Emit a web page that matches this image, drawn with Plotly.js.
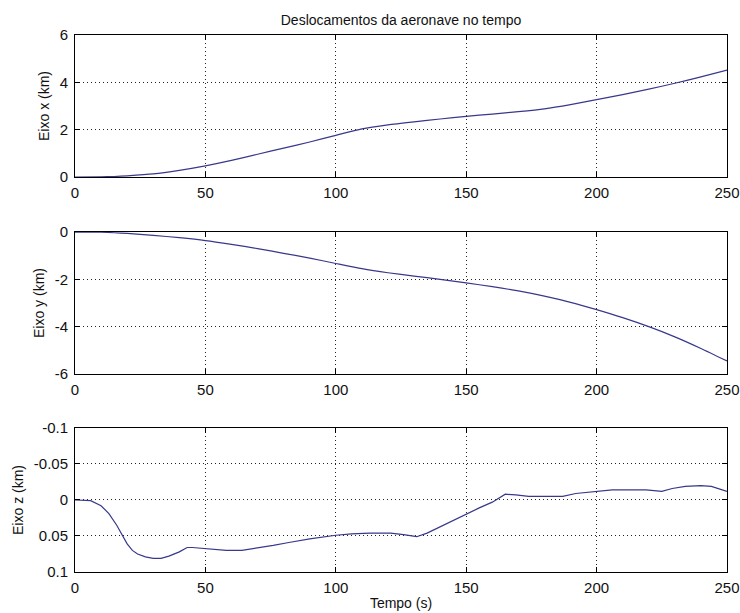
<!DOCTYPE html>
<html>
<head>
<meta charset="utf-8">
<script src="https://cdn.plot.ly/plotly-3.0.1.min.js"></script>
<style>
  html, body { margin: 0; padding: 0; background: #fff; }
  #chart { width: 740px; height: 613px; }
</style>
</head>
<body>
<div id="chart"></div>
<script>
// Aircraft displacement along each axis versus time

const tX = [0, 10, 15, 20, 30, 40, 50, 60, 70, 80, 90, 100, 110, 120, 130, 140, 150, 160, 170, 180, 190, 200, 210, 220, 230, 240, 250];
const eixoX = [0, 0.005, 0.02, 0.05, 0.13, 0.28, 0.47, 0.7, 0.96, 1.22, 1.48, 1.76, 2.03, 2.2, 2.33, 2.45, 2.56, 2.66, 2.76, 2.88, 3.06, 3.27, 3.48, 3.71, 3.96, 4.23, 4.52];

const tY = [0, 10, 15, 20, 25, 30, 40, 50, 60, 70, 80, 90, 100, 110, 120, 130, 140, 150, 160, 170, 180, 190, 200, 210, 220, 230, 240, 250];
const eixoY = [0, -0.01, -0.03, -0.06, -0.1, -0.14, -0.24, -0.36, -0.52, -0.7, -0.9, -1.1, -1.33, -1.55, -1.72, -1.86, -2.0, -2.15, -2.31, -2.49, -2.71, -2.97, -3.28, -3.62, -4.0, -4.43, -4.92, -5.45];

const tZ = [0, 3, 6, 10, 13, 16, 18, 20, 22, 24, 27, 30, 33, 36, 40, 43, 45, 48, 52, 58, 64, 70, 76, 82, 90, 100, 106, 113, 121, 126, 131, 135, 140, 145, 150, 155, 160, 165, 169, 174, 182, 187, 192, 200, 206, 213, 219, 225, 229, 234, 240, 244, 250];
const eixoZ = [0, 0, 0.001, 0.008, 0.019, 0.035, 0.048, 0.061, 0.07, 0.075, 0.079, 0.081, 0.081, 0.078, 0.072, 0.066, 0.066, 0.067, 0.069, 0.07, 0.07, 0.067, 0.063, 0.059, 0.054, 0.049, 0.047, 0.046, 0.046, 0.048, 0.051, 0.046, 0.037, 0.028, 0.019, 0.011, 0.003, -0.008, -0.007, -0.005, -0.005, -0.005, -0.009, -0.012, -0.014, -0.014, -0.014, -0.012, -0.016, -0.019, -0.02, -0.019, -0.012];

const xTickVals = [0, 50, 100, 150, 200, 250];
const xTickText = ['0', '50', '100', '150', '200', '250'];
const yTickValsX = [0, 2, 4, 6];
const yTickTextX = ['0', '2', '4', '6'];
const yTickValsY = [-6, -4, -2, 0];
const yTickTextY = ['-6', '-4', '-2', '0'];
const yTickValsZ = [-0.1, -0.05, 0, 0.05, 0.1];
const yTickTextZ = ['-0.1', '-0.05', '0', '0.05', '0.1'];

const lineColor = '#38388c';
const fontFam = '"Liberation Sans", Arial, sans-serif';

const traces = [
  { x: tX, y: eixoX, xaxis: 'x', yaxis: 'y', type: 'scatter', mode: 'lines',
    line: { color: lineColor, width: 1.2, shape: 'spline', smoothing: 0.6 }, hoverinfo: 'skip' },
  { x: tY, y: eixoY, xaxis: 'x2', yaxis: 'y2', type: 'scatter', mode: 'lines',
    line: { color: lineColor, width: 1.2, shape: 'spline', smoothing: 0.6 }, hoverinfo: 'skip' },
  { x: tZ, y: eixoZ, xaxis: 'x3', yaxis: 'y3', type: 'scatter', mode: 'lines',
    line: { color: lineColor, width: 1.2 }, hoverinfo: 'skip' }
];

function xAxis(anchor, withTitle) {
  const ax = {
    anchor: anchor, domain: [0, 1], range: [0, 250],
    tickmode: 'array', tickvals: xTickVals, ticktext: xTickText,
    showline: true, linecolor: '#000', linewidth: 1, mirror: 'ticks',
    ticks: 'inside', ticklen: 5, tickcolor: '#000',
    showgrid: true, gridcolor: '#222', gridwidth: 1, griddash: '1px,3px',
    zeroline: false, ticklabelstandoff: 2,
    tickfont: { family: fontFam, size: 15, color: '#111' }
  };
  if (withTitle) {
    ax.title = { text: 'Tempo (s)', standoff: 3, font: { family: fontFam, size: 14, color: '#111' } };
  }
  return ax;
}

function yAxis(anchor, domain, range, vals, text, label) {
  return {
    anchor: anchor, domain: domain, range: range,
    tickmode: 'array', tickvals: vals, ticktext: text,
    showline: true, linecolor: '#000', linewidth: 1, mirror: 'ticks',
    ticks: 'inside', ticklen: 5, tickcolor: '#000',
    showgrid: true, gridcolor: '#222', gridwidth: 1, griddash: '1px,3px',
    zeroline: false, ticklabelstandoff: 3,
    tickfont: { family: fontFam, size: 15, color: '#111' },
    title: { text: label, standoff: 6, font: { family: fontFam, size: 14, color: '#111' } }
  };
}

const layout = {
  width: 740, height: 613,
  margin: { l: 75, r: 13, t: 35, b: 41 },
  paper_bgcolor: '#fff', plot_bgcolor: '#fff',
  showlegend: false,
  title: {
    text: 'Deslocamentos da aeronave no tempo',
    xref: 'paper', x: 0.5, xanchor: 'center',
    yref: 'container', y: 1 - 20 / 613, yanchor: 'middle',
    font: { family: fontFam, size: 14, color: '#111' }
  },
  xaxis: xAxis('y', false),
  xaxis2: xAxis('y2', false),
  xaxis3: xAxis('y3', true),
  yaxis: yAxis('x', [0.7356, 1.0], [0, 6], yTickValsX, yTickTextX, 'Eixo x (km)'),
  yaxis2: yAxis('x2', [0.3687, 0.6331], [-6, 0], yTickValsY, yTickTextY, 'Eixo y (km)'),
  yaxis3: yAxis('x3', [0, 0.2682], [0.1, -0.1], yTickValsZ, yTickTextZ, 'Eixo z (km)')
};

Plotly.newPlot('chart', traces, layout, { staticPlot: true, displayModeBar: false });
</script>
</body>
</html>
